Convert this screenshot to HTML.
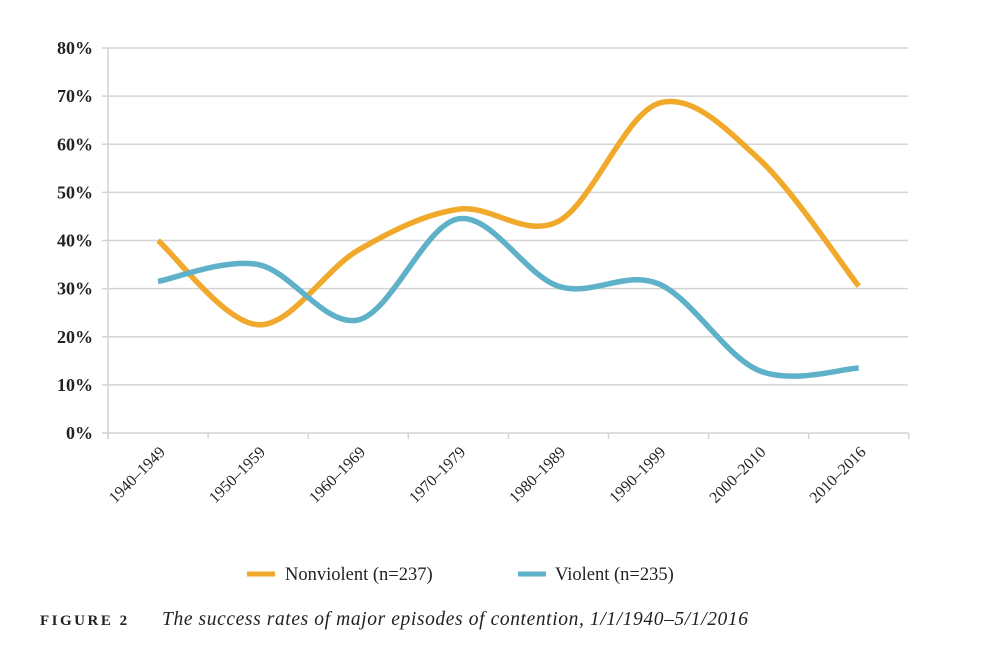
<!DOCTYPE html>
<html><head><meta charset="utf-8"><style>
body{margin:0;background:#fff;width:1004px;height:666px;overflow:hidden;font-family:"Liberation Serif",serif}
</style></head><body>
<svg width="1004" height="666" id="svg" font-family="Liberation Serif, serif">
<g id="grid"></g>
<g id="lines"></g>
<g>
<line x1="247" y1="574" x2="275" y2="574" stroke="#f0a92a" stroke-width="5"/>
<text x="285" y="580" font-size="18.5" fill="#222">Nonviolent (n=237)</text>
<line x1="518" y1="574" x2="546" y2="574" stroke="#5eb1c8" stroke-width="5"/>
<text x="555" y="580" font-size="18.5" fill="#222">Violent (n=235)</text>
</g>
<text x="40" y="625" font-size="15" font-weight="bold" letter-spacing="2.5" fill="#222">FIGURE 2</text>
<text x="162" y="625" font-size="19.5" font-style="italic" fill="#222" textLength="586">The success rates of major episodes of contention, 1/1/1940–5/1/2016</text>
</svg>
<script>
const categories=["1940–1949","1950–1959","1960–1969","1970–1979","1980–1989","1990–1999","2000–2010","2010–2016"];
const nonviolent=[40,22.5,38,46.5,44,68.5,57,30.5];
const violent=[31.5,35,23.5,44.5,30.5,31,13,13.5];
const yTicks=[0,10,20,30,40,50,60,70,80];
const NS="http://www.w3.org/2000/svg";
const x0=108,step=100.1,yBase=433,yTop=48;
const xs=i=>x0+step*(i+0.5);
const ys=v=>yBase-(v/80)*(yBase-yTop);
function mk(t,a,p){const e=document.createElementNS(NS,t);for(const k in a)e.setAttribute(k,a[k]);p.appendChild(e);return e;}
const g=document.getElementById('grid');
yTicks.forEach(v=>{
 const l=mk('line',{x1:102,x2:908,y1:ys(v),y2:ys(v),stroke:'#d4d4d4','stroke-width':1.5},g);
 
 
 const t=mk('text',{x:93,y:ys(v)+6,'text-anchor':'end','font-size':18,'font-weight':'bold',fill:'#222'},g);
 t.textContent=v+'%';
 
 
});
const ax=mk('line',{x1:x0,x2:x0,y1:yTop,y2:yBase+6,stroke:'#d4d4d4','stroke-width':1.5},g);


for(let i=0;i<=categories.length;i++){
 const t=mk('line',{x1:x0+step*i,x2:x0+step*i,y1:yBase,y2:yBase+6,stroke:'#d4d4d4','stroke-width':1.5},g);
 
 
}
categories.forEach((c,i)=>{
 const x=xs(i)+8,y=yBase+20;
 const t=mk('text',{x:x,y:y,'text-anchor':'end','font-size':16,fill:'#222',transform:`rotate(-45 ${x} ${y})`},g);
 t.textContent=c;
 
 
});
function path(vals){
 const p=vals.map((v,i)=>[xs(i),ys(v)]);
 let d=`M${p[0][0]},${p[0][1]}`;
 for(let i=0;i<p.length-1;i++){
  const p0=p[Math.max(0,i-1)],p1=p[i],p2=p[i+1],p3=p[Math.min(p.length-1,i+2)];
  const k=1/6;
  d+=` C${p1[0]+(p2[0]-p0[0])*k},${p1[1]+(p2[1]-p0[1])*k} ${p2[0]-(p3[0]-p1[0])*k},${p2[1]-(p3[1]-p1[1])*k} ${p2[0]},${p2[1]}`;
 }
 return d;
}
const lg=document.getElementById('lines');
const pn=mk('path',{d:path(nonviolent),fill:'none',stroke:'#f0a92a','stroke-width':5.5},lg);


const pv=mk('path',{d:path(violent),fill:'none',stroke:'#5eb1c8','stroke-width':5.5},lg);


</script>
</body></html>
